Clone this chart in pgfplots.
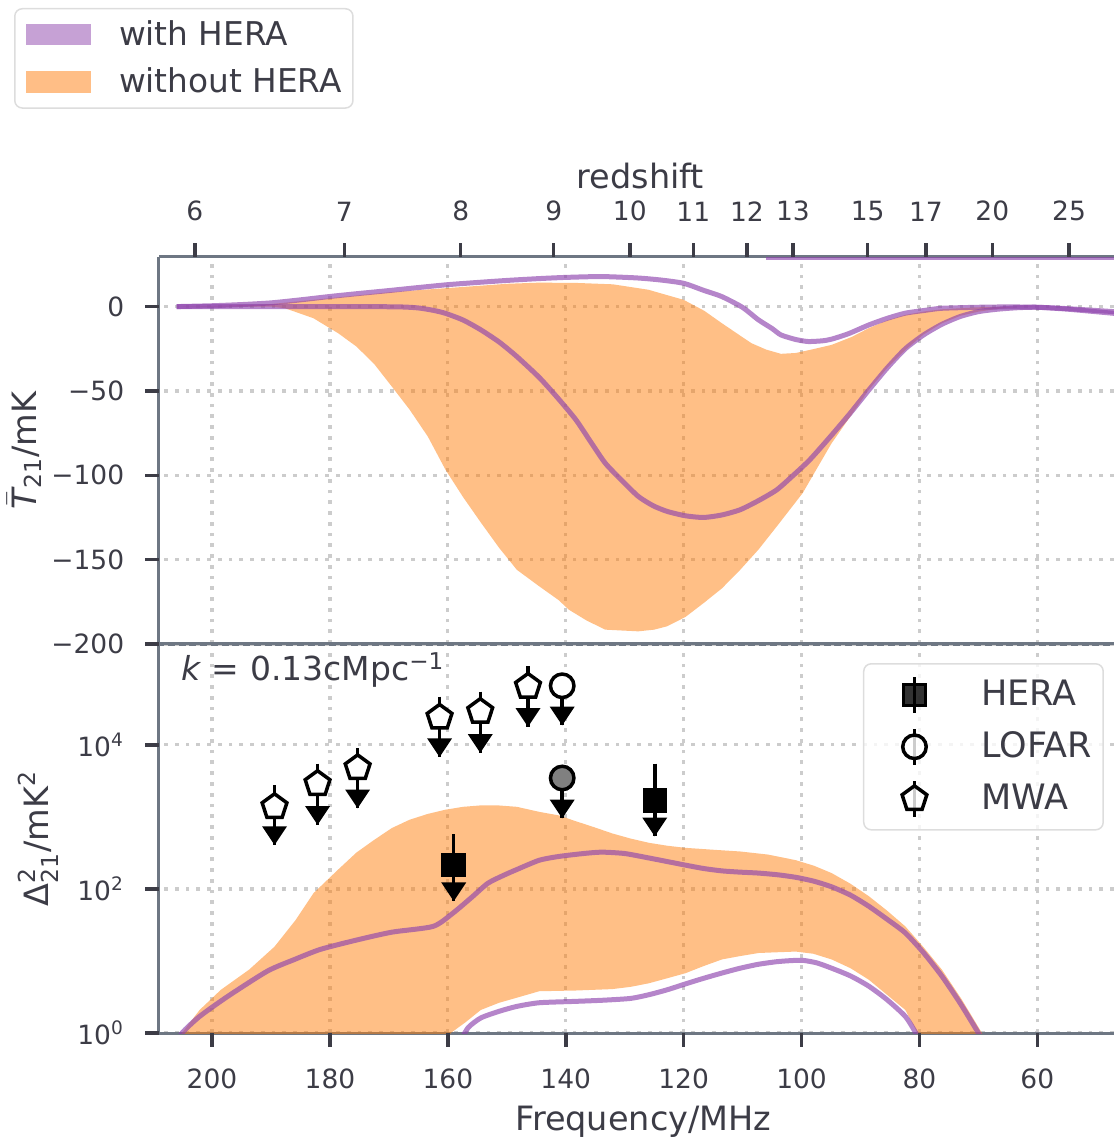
\documentclass[border=0pt]{standalone}
\usepackage{amsmath}
\usepackage{fontspec}
\setmainfont{DejaVu Sans}
\usepackage{pgfplots}
\pgfplotsset{compat=1.18}
\usetikzlibrary{plotmarks}
\definecolor{spine}{HTML}{6E7783}
\definecolor{tickc}{HTML}{3C3C46}
\definecolor{gridc}{HTML}{CCCCCC}
\definecolor{orangeb}{HTML}{FF7F0E}
\definecolor{purp}{HTML}{8E44AD}
\definecolor{legbord}{HTML}{DDDDDD}
\definecolor{lofgrey}{HTML}{808080}
\pgfdeclareplotmark{dcaret}{%
  \pgfpathmoveto{\pgfqpoint{0pt}{0pt}}%
  \pgfpathlineto{\pgfqpoint{-\pgfplotmarksize}{1.5\pgfplotmarksize}}%
  \pgfpathlineto{\pgfqpoint{\pgfplotmarksize}{1.5\pgfplotmarksize}}%
  \pgfpathclose\pgfusepathqfill}
\pgfplotsset{
  panel/.style={
    scale only axis, width=382pt,
    x dir=reverse, xmin=47, xmax=209,
    axis y line*=left,
    axis line style={draw=spine, line width=1.2pt, -},
    tick align=outside,
    major tick length=5.2pt,
    tick style={draw=tickc, line width=1.2pt, solid},
    grid=major,
    major grid style={draw=gridc, line width=1.3pt, dash pattern=on 1.5pt off 2.8pt},
    tick label style={font=\fontsize{10.6}{12}\selectfont, text=tickc},
    yticklabel style={xshift=-5.2pt},
    label style={font=\fontsize{13.4}{15}\selectfont, text=tickc},
    xtick={60,80,...,200},
    ytick pos=left,
  },
  purpline/.style={draw=purp, draw opacity=0.65, line width=2pt, forget plot},
  errl/.style={black, line width=1.4pt, forget plot},
  tickmk/.style={draw=tickc, line width=1.4pt, mark=none, forget plot},
}
\begin{document}
\begin{tikzpicture}
% ---------------- bottom panel ----------------
\begin{axis}[panel, at={(0pt,0pt)}, anchor=south west, height=155.6pt,
  ymode=log, ymin=1, ymax=251189, ytick={1,100,10000},
  yticklabels={10\textsuperscript{0},10\textsuperscript{2},10\textsuperscript{4}},
  yminorticks=false,
  xtick pos=left,
  xticklabels={60,80,100,120,140,160,180,200},
  xticklabel style={yshift=-5.4pt},
  xlabel={Frequency/MHz},
  xlabel style={at={(axis description cs:0.507,-0.228)}, anchor=center},
  ylabel={Δ$^{\text{2}}_{\text{21}}$/mK$^{\text{2}}$},
  ylabel style={at={(axis description cs:-0.1267,0.5)}, anchor=center},
  legend style={at={(0.9895,0.951)}, anchor=north east, draw=legbord, line width=0.6pt,
    rounded corners=3pt, fill=white, fill opacity=0.8, text opacity=1,
    font=\fontsize{14}{16}\selectfont, text=tickc,
    inner xsep=4.4pt, inner ysep=4.5pt, row sep=5pt, column sep=20.4pt,
    nodes={inner sep=0pt}},
  legend cell align=left,
]
% orange band (without HERA)
\addplot[fill=orangeb, fill opacity=0.5, draw=none, forget plot] coordinates {
(207,0.5) (205.1,1) (202.1,2.09) (198.5,3.98) (193.7,7.59) (189.4,15.8) (185.8,37.2)
(182.8,87.1) (178.6,186) (175.5,320) (172.5,479) (169.5,700) (166.5,912) (163.4,1100)
(160.4,1259) (157.4,1380) (154.4,1445) (151.3,1440) (148.3,1380) (144.5,1175) (141.2,1050)
(138.3,871) (135.2,720) (132.1,589) (129,500) (125.9,437) (122.8,398) (119.7,372) (115,350)
(110.4,331) (105.7,300) (101,251) (97.9,210) (94.9,166) (91.7,118) (88.6,79.4) (85.5,50)
(82.4,30.2) (79.3,15.5) (76.2,7.59) (72.8,2.9) (69.4,1) (68.5,0.5)
(79.5,0.6) (80.6,1.1) (82.4,2.09) (85.5,3.39) (88.6,5.5) (91.7,7.94) (94.9,10.5) (98,12.6)
(101,13.5) (104.2,13.2) (107.3,12.9) (110.4,11.7) (113.5,10.5) (116.6,8.5) (119.7,6.76)
(122.8,5.75) (125.9,4.9) (129,4.37) (132.1,4.07) (138.3,3.89) (144.5,3.8) (148.3,3.09)
(151.3,2.63) (154.4,2.09) (157,1.41) (159.5,1) (161,0.6) (207,0.5)
} -- cycle;
% with HERA lines
\addplot[purpline, smooth, tension=0.4] coordinates {
(206,0.7) (205.1,1) (202.1,1.70) (197.3,3.24) (190.6,7.24) (186,10.5) (181.6,14.5) (175.5,19.5)
(169.5,25.1) (162.5,30.2) (159.2,45.7) (156,75.9) (153.2,120) (150.5,155) (148.3,186)
(144.5,250) (141.2,282) (137,310) (133.9,324) (130,310) (125.9,269) (122.8,240) (119.7,214)
(116.6,192) (113.5,178) (110.4,171) (107.3,166) (104,157) (101,145) (97.9,128) (94.9,107)
(91.7,82) (88.6,57.5) (85.5,38) (82.4,24.5) (79.3,13) (76.2,6.17) (73.1,2.6) (70,1) (69,0.7)
};
\addplot[purpline, smooth, tension=0.4] coordinates {
(157.8,0.8) (156.5,1.2) (154.4,1.62) (151.3,2.0) (148.3,2.34) (144.5,2.63) (138.3,2.75)
(133.7,2.85) (129,3.02) (125.9,3.4) (122.8,3.98) (119.7,4.8) (116.6,5.75) (113.5,6.8)
(110.4,7.94) (107.3,9.0) (104.2,9.77) (101.9,10.1) (99.8,10.2) (97.4,9.4) (94.9,7.94)
(91.7,6.2) (88.6,4.47) (85.5,2.9) (82.4,1.70) (80.6,1) (80,0.8)
};
% upper-limit error lines
\addplot[errl] coordinates {(189.4,2754) (189.4,407)};
\addplot[errl] coordinates {(182.1,5495) (182.1,776)};
\addplot[errl] coordinates {(175.3,8913) (175.3,1318)};
\addplot[errl] coordinates {(161.4,46774) (161.4,6761)};
\addplot[errl] coordinates {(154.5,54954) (154.5,7762)};
\addplot[errl] coordinates {(146.4,123027) (146.4,17783)};
\addplot[errl] coordinates {(140.6,66069) (140.6,18621)};
\addplot[errl] coordinates {(140.6,3467) (140.6,955)};
\addplot[errl] coordinates {(159.0,575) (159.0,67.6)};
\addplot[errl] coordinates {(124.9,5495) (124.9,537)};
% arrow heads
\addplot[only marks, mark=dcaret, mark size=5pt, black, forget plot] coordinates {
(189.4,407) (182.1,776) (175.3,1318) (161.4,6761) (154.5,7762) (146.4,17783)
(140.6,18621) (140.6,955) (159.0,67.6) (124.9,537)};
% HERA
\addplot[only marks, mark=square*, mark size=4.3pt, mark options={fill=black, draw=black, line width=1.2pt},
  legend image code/.code={
    \path (0pt,0pt) (21.6pt,0pt);
    \draw[black,line width=1.4pt,sharp corners] (15.6pt,-7.2pt)--(15.6pt,7.2pt);
    \draw[black,line width=1.2pt,fill=black,sharp corners] (11.3pt,-4.3pt) rectangle (19.9pt,4.3pt);}]
  coordinates {(159.0,214) (124.9,1698)};
\addlegendentry{HERA}
% LOFAR
\addplot[only marks, mark=*, mark size=4.7pt, mark options={fill=white, draw=black, line width=1.4pt},
  legend image code/.code={
    \path (0pt,0pt) (21.6pt,0pt);
    \draw[black,line width=1.4pt,sharp corners] (15.6pt,-7.2pt)--(15.6pt,7.2pt);
    \draw[black,line width=1.4pt,fill=white] (15.6pt,0pt) circle (4.7pt);}]
  coordinates {(140.6,66069)};
\addlegendentry{LOFAR}
\addplot[only marks, mark=*, mark size=4.7pt, mark options={fill=lofgrey, draw=black, line width=1.4pt}, forget plot]
  coordinates {(140.6,3467)};
% MWA
\addplot[only marks, mark=pentagon*, mark size=5.2pt, mark options={fill=white, draw=black, line width=1.4pt},
  legend image code/.code={
    \path (0pt,0pt) (21.6pt,0pt);
    \draw[black,line width=1.4pt,sharp corners] (15.6pt,-7.2pt)--(15.6pt,7.2pt);
    \draw[black,line width=1.4pt,fill=white,sharp corners,mark=pentagon*,mark size=5.2pt] plot coordinates {(15.6pt,0pt)};}]
  coordinates {(189.4,1380) (182.1,2884) (175.3,4786) (161.4,23988) (154.5,28840) (146.4,64565)};
\addlegendentry{MWA}
\node[anchor=base west, font=\fontsize{13.2}{15}\selectfont, text=tickc] at (axis description cs:0.014,0.9057)
  {\textit{k}\hspace{0.32em}=\hspace{0.32em}0.13cMpc\textsuperscript{−1}};
\end{axis}
% ---------------- top panel ----------------
\begin{axis}[panel, at={(0pt,155.6pt)}, anchor=south west, height=154.8pt,
  ymin=-200, ymax=29.4, ytick={-200,-150,-100,-50,0},
  yticklabels={−200,−150,−100,−50,0},
  xticklabels={}, xtick style={draw=none},
  ylabel={$\bar{\text{\itshape T}}_{\text{21}}$/mK},
  ylabel style={at={(axis description cs:-0.141,0.5)}, anchor=center},
  legend style={at={(-0.1518,1.6434)}, anchor=north west, draw=legbord, line width=0.6pt,
    rounded corners=3pt, fill=white,
    font=\fontsize{13.1}{15}\selectfont, text=tickc,
    inner xsep=4.5pt, inner ysep=4.6pt, row sep=7.6pt, column sep=11.2pt,
    nodes={inner sep=0pt}},
  legend cell align=left,
]
\addlegendimage{legend image code/.code={\fill[purp, fill opacity=0.5, draw=none, sharp corners] (0.7pt,-4.35pt) rectangle (26.7pt,4.35pt);}}
\addlegendentry{with HERA}
\addlegendimage{legend image code/.code={\fill[orangeb, fill opacity=0.5, draw=none, sharp corners] (0.7pt,-4.35pt) rectangle (26.7pt,4.35pt);}}
\addlegendentry{without HERA}
\addplot[fill=orangeb, fill opacity=0.5, draw=none, forget plot] coordinates {
(206,0) (200,0.3) (190,1.5) (180,5) (170,8.5) (160,11) (150,13.5) (144.5,14.2) (138,14)
(132,13.2) (126,10) (120,4) (116.5,-2.5) (113.5,-9.9) (110.5,-17) (108.5,-21.7) (106,-25.5)
(103.5,-28) (101,-27.5) (98.6,-25.7) (94.9,-22.7) (91.5,-18) (88.6,-12.8) (85.5,-8.2)
(82.4,-4.9) (79,-2.8) (76.2,-1.6) (70,-0.4) (64,-0.1) (60,0)
(63.8,-0.4) (66.9,-1.4) (70,-3) (73.1,-5.5) (76.2,-9.9) (79.3,-16.5) (82.4,-25.7) (85.5,-36.5)
(88.6,-49.4) (91.7,-65) (94.9,-81) (97.4,-96) (99.8,-110.5) (104.2,-130.3) (107.3,-144)
(110.4,-156) (113.5,-167) (116.6,-175.7) (119.7,-184) (122.8,-189.5) (125,-191.5) (127.7,-192.5)
(130.5,-192) (133.3,-191.5) (136.5,-186) (139.5,-179.6) (141.2,-174) (144.5,-165.8) (148.3,-156)
(151.3,-143) (154.4,-128) (157.4,-113) (160.4,-96.7) (163.4,-77) (166.5,-61) (169.5,-47.4)
(172.5,-34) (175.5,-23.7) (178.6,-15.8) (182.8,-6.9) (187.6,-1) (190,0) (206,0)
} -- cycle;
\addplot[purpline, smooth, tension=0.4] coordinates {
(206,0) (200,0.5) (195,1.2) (190,2.2) (185,4) (180,6) (175,7.8) (170,9.5) (165,11.3) (160,13)
(155,14.3) (150,15.5) (144.5,16.6) (140,17.3) (134,17.8) (128,17) (124,15.8) (120,13.8)
(116.5,9.5) (113.5,5.9) (110,-0.5) (107.3,-7.9) (105,-13) (103.5,-16.8) (101,-19.5) (98.9,-20.7)
(96.5,-20.3) (94.9,-19.3) (92,-16) (88.6,-10.9) (85.5,-7) (82.4,-3.9) (79,-2.2) (76.2,-1)
(70,-0.4) (65,-0.2) (60,-0.4) (55,-1.2) (47,-3)
};
\addplot[purpline, smooth, tension=0.4] coordinates {
(206,0) (190,0) (175,0) (168,-0.2) (165,-0.8) (162.5,-2.2) (160.4,-4) (157.4,-8) (154.4,-13.8)
(151.3,-21) (148.3,-29.6) (144.5,-42) (141.4,-54) (138.3,-67) (135.8,-80) (133.3,-92.8)
(130.5,-103) (127.7,-112.5) (125.2,-118) (122.8,-121.4) (119.7,-124) (116.6,-125) (113.5,-123.5)
(110.4,-120.4) (107.3,-115) (104.2,-108.6) (101.4,-100) (98.6,-90.8) (95.1,-77) (91.7,-63)
(88.6,-49.5) (85.5,-36.5) (82.4,-25) (79.3,-16.8) (76.2,-10.5) (73.1,-5.9) (70,-3) (66.9,-1.6)
(63.5,-0.7) (60.1,-0.4) (55,-1.5) (47,-4)
};
\addplot[draw=purp, draw opacity=0.65, line width=1pt, forget plot] coordinates {(106,28.6) (47,28.6)};
\end{axis}
% ---------------- redshift axis ----------------
\begin{axis}[scale only axis, width=382pt, height=154.8pt, at={(0pt,155.6pt)}, anchor=south west,
  x dir=reverse, xmin=47, xmax=209, ymin=0, ymax=1,
  axis line style={draw=none}, ytick=\empty,
  xtick pos=right, xticklabel pos=right,
  tick align=outside, major tick length=5.2pt,
  xtick style={draw=tickc, line width=1.2pt, solid},
  xtick={202.915,177.551,157.823,142.041,129.128,118.367,109.262,101.458,88.775,78.911,67.638,54.631},
  xticklabels={6,7,8,9,10,11,12,13,15,17,20,25},
  tick label style={font=\fontsize{10.6}{12}\selectfont, text=tickc},
  xticklabel style={yshift=5.6pt},
  xlabel={redshift},
  xlabel style={font=\fontsize{13.4}{15}\selectfont, text=tickc, at={(axis description cs:0.504,1.209)}, anchor=center},
]
\addplot[draw=none] coordinates {(100,0.5)};
\end{axis}
% ---------------- tick marks (overlay in pt units) ----------------
\begin{axis}[scale only axis, width=382pt, height=310.4pt, at={(0pt,0pt)}, anchor=south west,
  x dir=reverse, xmin=47, xmax=209, ymin=0, ymax=310.4, hide axis, clip=false]
% frequency ticks below the bottom panel
\addplot[tickmk] coordinates {(60,0) (60,-5.4)};
\addplot[tickmk] coordinates {(80,0) (80,-5.4)};
\addplot[tickmk] coordinates {(100,0) (100,-5.4)};
\addplot[tickmk] coordinates {(120,0) (120,-5.4)};
\addplot[tickmk] coordinates {(140,0) (140,-5.4)};
\addplot[tickmk] coordinates {(160,0) (160,-5.4)};
\addplot[tickmk] coordinates {(180,0) (180,-5.4)};
\addplot[tickmk] coordinates {(200,0) (200,-5.4)};
% redshift ticks above the top panel
\addplot[tickmk] coordinates {(202.915,310.4) (202.915,315.8)};
\addplot[tickmk] coordinates {(177.551,310.4) (177.551,315.8)};
\addplot[tickmk] coordinates {(157.823,310.4) (157.823,315.8)};
\addplot[tickmk] coordinates {(142.041,310.4) (142.041,315.8)};
\addplot[tickmk] coordinates {(129.128,310.4) (129.128,315.8)};
\addplot[tickmk] coordinates {(118.367,310.4) (118.367,315.8)};
\addplot[tickmk] coordinates {(109.262,310.4) (109.262,315.8)};
\addplot[tickmk] coordinates {(101.458,310.4) (101.458,315.8)};
\addplot[tickmk] coordinates {(88.775,310.4) (88.775,315.8)};
\addplot[tickmk] coordinates {(78.911,310.4) (78.911,315.8)};
\addplot[tickmk] coordinates {(67.638,310.4) (67.638,315.8)};
\addplot[tickmk] coordinates {(54.631,310.4) (54.631,315.8)};
% y ticks, left of both panels
\addplot[tickmk] coordinates {(209,0) (211.3,0)};
\addplot[tickmk] coordinates {(209,57.63) (211.3,57.63)};
\addplot[tickmk] coordinates {(209,115.26) (211.3,115.26)};
\addplot[tickmk] coordinates {(209,155.6) (211.3,155.6)};
\addplot[tickmk] coordinates {(209,189.34) (211.3,189.34)};
\addplot[tickmk] coordinates {(209,223.08) (211.3,223.08)};
\addplot[tickmk] coordinates {(209,256.82) (211.3,256.82)};
\addplot[tickmk] coordinates {(209,290.56) (211.3,290.56)};
\end{axis}
\pgfresetboundingbox
\path[use as bounding box] (-63.6pt,-42pt) rectangle (382pt,413.2pt);
\end{tikzpicture}
\end{document}
